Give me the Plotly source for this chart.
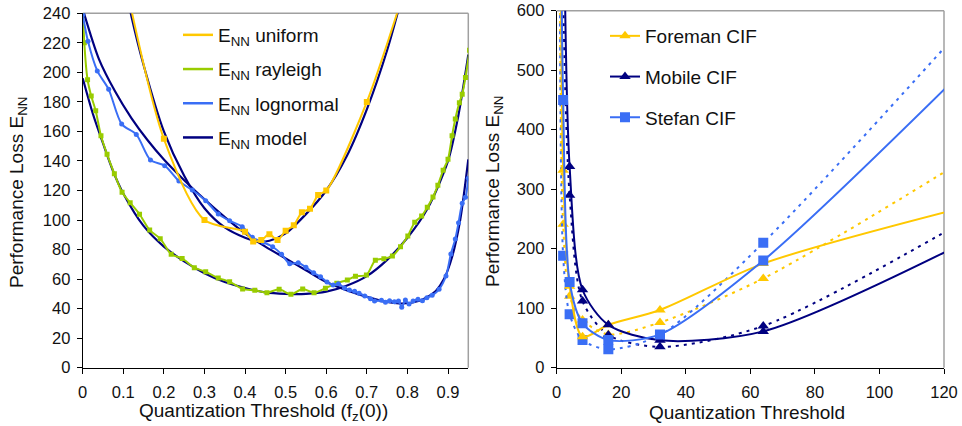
import plotly.graph_objects as go

YELLOW = "#FFC800"
GREEN = "#99CC00"
BLUE = "#3A6EF5"
NAVY = "#000080"
FONT = "Liberation Sans, Arial, sans-serif"

# ---------------- Left panel data ----------------
uniform_x = [0.1, 0.2, 0.3, 0.4, 0.42, 0.44, 0.46, 0.48, 0.5, 0.52, 0.54, 0.56, 0.58, 0.6, 0.7, 0.8]
uniform_y = [268, 155, 100, 92, 85.5, 86.5, 90.3, 86.4, 92.8, 96.4, 105.3, 107.7, 117, 120, 180, 262]

uniform_model_x = [0.10, 0.12, 0.15, 0.2, 0.25, 0.3, 0.35, 0.4, 0.43, 0.46, 0.5, 0.55, 0.6, 0.65, 0.7, 0.75, 0.8]
uniform_model_y = [265, 238, 205, 160, 130, 108, 95, 88, 85.5, 86, 91, 104, 120, 143, 175, 215, 265]

rayleigh_x = [0.0, 0.004, 0.012, 0.021, 0.032, 0.045, 0.06, 0.078, 0.097, 0.117, 0.14, 0.165, 0.191,
              0.218, 0.245, 0.275, 0.303, 0.334, 0.362, 0.394, 0.424, 0.454, 0.484, 0.513, 0.542,
              0.570, 0.598, 0.626, 0.652, 0.672, 0.699, 0.721, 0.742, 0.763, 0.783, 0.801, 0.818,
              0.835, 0.849, 0.863, 0.875, 0.888, 0.9, 0.91, 0.918, 0.928, 0.935, 0.943, 0.953]
rayleigh_y = [250, 220, 195, 184, 174, 157, 144.5, 131.4, 118.8, 111.7, 103.9, 93.2, 87.4,
              76.8, 74, 67.7, 65, 60.7, 58.2, 53.3, 52.4, 50.8, 53.1, 49.7, 53.3,
              50.8, 53.8, 57.2, 59.4, 61.9, 62.8, 72.7, 73.8, 75.6, 81.9, 89.2, 98.5,
              102.7, 108.6, 115.6, 123.5, 133.7, 141.1, 157.1, 168.4, 179.5, 185.1, 196.6, 215]

rayleigh_model_x = [0, 0.025, 0.05, 0.075, 0.1, 0.15, 0.2, 0.25, 0.3, 0.35, 0.4, 0.45, 0.5, 0.55,
                    0.6, 0.65, 0.7, 0.75, 0.8, 0.85, 0.9, 0.925, 0.95]
rayleigh_model_y = [196, 172, 152, 133, 118, 96, 82, 72, 64, 58, 54, 51, 50, 50,
                    51.5, 55.5, 62, 73, 88, 108, 140, 170, 212]

lognormal_x = [0.0, 0.013, 0.036, 0.064, 0.096, 0.132, 0.167, 0.202, 0.237, 0.27, 0.303, 0.334,
               0.362, 0.393, 0.418, 0.445, 0.468, 0.49, 0.51, 0.531, 0.55, 0.569, 0.586, 0.602,
               0.617, 0.63, 0.645, 0.657, 0.67, 0.681, 0.695, 0.709, 0.719, 0.736, 0.746, 0.756,
               0.768, 0.778, 0.786, 0.795, 0.804, 0.814, 0.826, 0.837, 0.848, 0.861, 0.878, 0.895,
               0.907, 0.918, 0.926, 0.935, 0.943, 0.95]
lognormal_y = [239, 221, 201, 188.5, 165, 158, 140.6, 136.8, 126.4, 120.3, 113.1, 104.1,
               99.5, 95.5, 88.3, 84.9, 81.9, 76.8, 70.4, 71.1, 68, 64.3, 61.6, 58,
               56, 56.9, 54, 52.6, 51.7, 50.4, 48.6, 46.7, 45.2, 45.6, 44.3, 45.4,
               44.7, 45.2, 40.9, 45.8, 43.1, 45.2, 46.3, 45.4, 47.4, 49, 53.1, 62.1,
               77, 87.2, 98.2, 111.3, 115.4, 128.3]

lognormal_model_x = [0, 0.04, 0.08, 0.12, 0.16, 0.2, 0.25, 0.3, 0.35, 0.4, 0.45, 0.5, 0.55, 0.6,
                     0.65, 0.7, 0.75, 0.78, 0.81, 0.84, 0.87, 0.89, 0.91, 0.93, 0.95]
lognormal_model_y = [243, 209, 187, 169, 154, 141, 127, 114, 102, 91, 82, 74, 66, 58,
                     52.5, 48, 44.5, 43.5, 44, 46.5, 52, 60, 75, 100, 141]

# ---------------- Right panel data ----------------
cif_x = [1, 2, 4, 8, 16, 32, 64, 128]
foreman_solid = [1200, 332, 137, 52, 72, 97, 175, 272]
foreman_dotted = [650, 241, 120, 80, 56, 76, 150, 355]
stefan_solid = [1000, 450, 144, 74.6, 46.5, 56, 180, 510]
stefan_dotted = [700, 188, 90, 46.5, 31, 55, 210, 585]
mobile_x = [2, 4, 8, 16, 32, 64, 128]
mobile_solid = [900, 338, 131, 72, 46, 61, 215]
mobile_dotted = [620, 290, 112, 55, 35, 70, 252]

left_xticks = [0, 0.1, 0.2, 0.3, 0.4, 0.5, 0.6, 0.7, 0.8, 0.9]
left_yticks = [0, 20, 40, 60, 80, 100, 120, 140, 160, 180, 200, 220, 240]
right_xticks = [0, 20, 40, 60, 80, 100, 120]
right_yticks = [0, 100, 200, 300, 400, 500, 600]

fig = go.Figure()

def line_trace(x, y, color, xa, ya, width=2, dash="solid", marker=None, name=None,
               showlegend=False, legend="legend", group=None):
    mode = "lines+markers" if marker else "lines"
    return go.Scatter(x=x, y=y, mode=mode, xaxis=xa, yaxis=ya,
                      line=dict(color=color, width=width, dash=dash, shape="spline", smoothing=0.8),
                      marker=marker, name=name, showlegend=showlegend, legend=legend,
                      legendgroup=group, hoverinfo="skip")

# left: models first
for mx, my in [(uniform_model_x, uniform_model_y), (rayleigh_model_x, rayleigh_model_y),
               (lognormal_model_x, lognormal_model_y)]:
    fig.add_trace(line_trace(mx, my, NAVY, "x", "y", width=2.2))

fig.add_trace(line_trace(rayleigh_x, rayleigh_y, GREEN, "x", "y",
                         marker=dict(symbol="square", size=5, color=GREEN)))
fig.add_trace(line_trace(lognormal_x, lognormal_y, BLUE, "x", "y",
                         marker=dict(symbol="circle", size=5, color=BLUE)))
fig.add_trace(line_trace(uniform_x, uniform_y, YELLOW, "x", "y",
                         marker=dict(symbol="square", size=6, color=YELLOW)))

# left legend entries (line only)
for nm, col, g in [("E<sub>NN</sub> uniform", YELLOW, "lu"), ("E<sub>NN</sub> rayleigh", GREEN, "lr"),
                   ("E<sub>NN</sub> lognormal", BLUE, "ll"), ("E<sub>NN</sub> model", NAVY, "lm")]:
    fig.add_trace(go.Scatter(x=[None], y=[None], mode="lines", xaxis="x", yaxis="y",
                             line=dict(color=col, width=2.5), name=nm, showlegend=True,
                             legend="legend", legendgroup=g))

# right panel
DOT = "3px,5px"
fig.add_trace(line_trace(cif_x, foreman_dotted, YELLOW, "x2", "y2", dash=DOT,
                         marker=dict(symbol="triangle-up", size=10, color=YELLOW)))
fig.add_trace(line_trace(mobile_x, mobile_dotted, NAVY, "x2", "y2", dash=DOT,
                         marker=dict(symbol="triangle-up", size=10, color=NAVY)))
fig.add_trace(line_trace(cif_x, stefan_dotted, BLUE, "x2", "y2", dash=DOT,
                         marker=dict(symbol="square", size=10, color=BLUE)))
fig.add_trace(line_trace(cif_x, foreman_solid, YELLOW, "x2", "y2",
                         marker=dict(symbol="triangle-up", size=10, color=YELLOW),
                         name="Foreman CIF", showlegend=True, legend="legend2", group="f"))
fig.add_trace(line_trace(mobile_x, mobile_solid, NAVY, "x2", "y2",
                         marker=dict(symbol="triangle-up", size=10, color=NAVY),
                         name="Mobile CIF", showlegend=True, legend="legend2", group="m"))
fig.add_trace(line_trace(cif_x, stefan_solid, BLUE, "x2", "y2",
                         marker=dict(symbol="square", size=10, color=BLUE),
                         name="Stefan CIF", showlegend=True, legend="legend2", group="s"))

W, H = 962, 426
axis_common = dict(showline=True, linecolor="black", linewidth=1, ticks="outside", ticklen=5,
                   tickcolor="black", showgrid=False, zeroline=False, automargin=False,
                   tickfont=dict(family=FONT, size=16.5, color="#111"))
xaxis_extra = dict(ticklabelstandoff=4)
yaxis_extra = dict(ticklabelstandoff=3)

fig.update_layout(
    width=W, height=H, template="none",
    margin=dict(l=0, r=0, t=0, b=0),
    paper_bgcolor="white", plot_bgcolor="white",
    font=dict(family=FONT, color="#111"),
    xaxis=dict(domain=[82.7 / W, 468.3 / W], range=[0, 0.95], tickvals=left_xticks,
               ticktext=[f"{v:g}" for v in left_xticks], anchor="y", **axis_common, **xaxis_extra),
    yaxis=dict(domain=[1 - 367.7 / H, 1 - 13.3 / H], range=[0, 240], tickvals=left_yticks,
               anchor="x", **axis_common, **yaxis_extra),
    xaxis2=dict(domain=[556.7 / W, 944 / W], range=[0, 120], tickvals=right_xticks,
                anchor="y2", **axis_common, **xaxis_extra),
    yaxis2=dict(domain=[1 - 367.7 / H, 1 - 10.7 / H], range=[0, 600], tickvals=right_yticks,
                anchor="x2", **axis_common, **yaxis_extra),
    legend=dict(x=178 / W, y=1 - 16 / H, xanchor="left", yanchor="top", bgcolor="rgba(0,0,0,0)",
                font=dict(family=FONT, size=19, color="#111"), tracegroupgap=6.5,
                traceorder="grouped"),
    legend2=dict(x=605 / W, y=1 - 17 / H, xanchor="left", yanchor="top", bgcolor="rgba(0,0,0,0)",
                 font=dict(family=FONT, size=19, color="#111"), tracegroupgap=13,
                 traceorder="grouped"),
    showlegend=True,
)

# gray plot-area borders (top and right)
for xr, yr in [("x domain", "y domain"), ("x2 domain", "y2 domain")]:
    fig.add_shape(type="line", xref=xr, yref=yr, x0=0, x1=1, y0=1, y1=1,
                  line=dict(color="#A0A0A0", width=1.5), layer="below")
    fig.add_shape(type="line", xref=xr, yref=yr, x0=1, x1=1, y0=0, y1=1,
                  line=dict(color="#A0A0A0", width=1.5), layer="below")

title_font = dict(family=FONT, size=19, color="#111")
ann = dict(xref="paper", yref="paper", showarrow=False, font=title_font,
           xanchor="center", yanchor="middle")
fig.add_annotation(text="Performance Loss E<sub>NN</sub>", x=18 / W, y=1 - 193 / H,
                   textangle=-90, **ann)
fig.add_annotation(text="Performance Loss E<sub>NN</sub>", x=494 / W, y=1 - 192 / H,
                   textangle=-90, **ann)
fig.add_annotation(text="Quantization Threshold (f<sub>z</sub>(0))", x=263 / W, y=1 - 412 / H, **ann)
fig.add_annotation(text="Quantization Threshold", x=747 / W, y=1 - 412 / H, **ann)

fig.write_html("out.html", post_script="document.body.style.margin='0px';",
               config={"displayModeBar": False})
